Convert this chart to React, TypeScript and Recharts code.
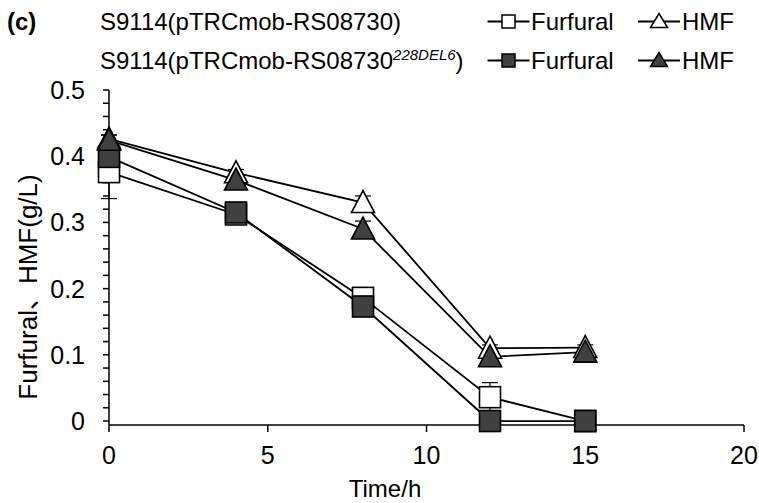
import React from "react";
import { LineChart, Line, XAxis, YAxis, ErrorBar } from "recharts";

// ---------------------------------------------------------------------------
// Data
// ---------------------------------------------------------------------------

const times = [0, 4, 8, 12, 15];

// S9114(pTRCmob-RS08730)
const furfuralWt = [0.376, 0.312, 0.186, 0.036, 0.0];
const furfuralWtErr = [0.04, 0.006, 0.007, 0.022, 0.002];
const hmfWt = [0.426, 0.375, 0.33, 0.11, 0.111];
const hmfWtErr = [0.006, 0.005, 0.01, 0.005, 0.004];

// S9114(pTRCmob-RS08730 228DEL6)
const furfuralMut = [0.399, 0.315, 0.173, 0.0, 0.0];
const furfuralMutErr = [0.006, 0.014, 0.01, 0.003, 0.006];
const hmfMut = [0.424, 0.364, 0.29, 0.097, 0.104];
const hmfMutErr = [0.008, 0.008, 0.012, 0.006, 0.004];

const xTicks = [0, 5, 10, 15, 20];
const yTicks = [
  0, 0.02, 0.04, 0.06, 0.08, 0.1, 0.12, 0.14, 0.16, 0.18, 0.2, 0.22, 0.24,
  0.26, 0.28, 0.3, 0.32, 0.34, 0.36, 0.38, 0.4, 0.42, 0.44, 0.46, 0.48, 0.5,
];
const yMajorLabels = ["0", "0.1", "0.2", "0.3", "0.4", "0.5"];

const strainA = "S9114(pTRCmob-RS08730)";
const strainBPrefix = "S9114(pTRCmob-RS08730";
const strainBSup = "228DEL6";
const xTitle = "Time/h";
const yTitle = "Furfural、HMF(g/L)";

// ---------------------------------------------------------------------------
// Helpers
// ---------------------------------------------------------------------------

const FONT = "'Liberation Sans', Arial, 'Noto Sans CJK SC', sans-serif";
const DARK = "#404040";

const rows = times.map((t, i) => ({
  t,
  fw: furfuralWt[i],
  fwErr: furfuralWtErr[i],
  hw: hmfWt[i],
  hwErr: hmfWtErr[i],
  fm: furfuralMut[i],
  fmErr: furfuralMutErr[i],
  hm: hmfMut[i],
  hmErr: hmfMutErr[i],
}));

function squareDot(fill: string) {
  return (p: any) => {
    const s = 21;
    return (
      <rect
        key={`sq-${fill}-${p.index}`}
        x={p.cx - s / 2}
        y={p.cy - s / 2}
        width={s}
        height={s}
        fill={fill}
        stroke="#000"
        strokeWidth={1.6}
      />
    );
  };
}

function triangleDot(fill: string) {
  return (p: any) => {
    const w = 23;
    const top = p.cy - 12;
    const bot = p.cy + 10;
    return (
      <path
        key={`tr-${fill}-${p.index}`}
        d={`M${p.cx},${top} L${p.cx + w / 2},${bot} L${p.cx - w / 2},${bot} Z`}
        fill={fill}
        stroke="#000"
        strokeWidth={1.6}
      />
    );
  };
}

function XTick({ x, y, payload }: any) {
  return (
    <text x={x} y={y + 30} textAnchor="middle" fontSize={25} fill="#000" fontFamily={FONT}>
      {payload.value}
    </text>
  );
}

function YTick({ x, y, payload }: any) {
  const idx = Math.round(payload.value * 10);
  if (Math.abs(payload.value * 10 - idx) > 1e-6) return null;
  return (
    <text x={x - 16} y={y + 9} textAnchor="end" fontSize={25} fill="#000" fontFamily={FONT}>
      {yMajorLabels[idx]}
    </text>
  );
}

function LegendMarker({ x, y, kind, fill }: { x: number; y: number; kind: "sq" | "tr"; fill: string }) {
  return (
    <g>
      <line x1={x - 21} x2={x + 21} y1={y} y2={y} stroke="#000" strokeWidth={2} />
      {kind === "sq" ? (
        <rect x={x - 6.5} y={y - 6.5} width={13} height={13} fill={fill} stroke="#000" strokeWidth={1.5} />
      ) : (
        <path d={`M${x},${y - 8} L${x + 8.5},${y + 6} L${x - 8.5},${y + 6} Z`} fill={fill} stroke="#000" strokeWidth={1.5} />
      )}
    </g>
  );
}

// ---------------------------------------------------------------------------
// Component
// ---------------------------------------------------------------------------

export default function App() {
  const row1 = 30;
  const row2 = 69;
  return (
    <div style={{ position: "absolute", left: 0, top: 0, width: 759, height: 503, background: "#fff" }}>
      <LineChart
        width={759}
        height={503}
        data={rows}
        margin={{ top: 90, right: 15, left: 0, bottom: 0 }}
        style={{ fontFamily: FONT }}
      >
        <XAxis
          dataKey="t"
          type="number"
          domain={[0, 20]}
          ticks={xTicks}
          interval={0}
          height={78}
          tickSize={7}
          tick={<XTick />}
          axisLine={{ stroke: "#000", strokeWidth: 1.5 }}
          tickLine={{ stroke: "#000", strokeWidth: 1.5 }}
        />
        <YAxis
          type="number"
          domain={[0, 0.5]}
          ticks={yTicks}
          interval={0}
          width={109}
          tickSize={6}
          tick={<YTick />}
          axisLine={{ stroke: "#000", strokeWidth: 1.5 }}
          tickLine={{ stroke: "#000", strokeWidth: 1.5 }}
        />

        {/* markers first so the connecting lines sit on top of them */}
        <Line dataKey="fw" stroke="none" dot={squareDot("#fff")} activeDot={false} isAnimationActive={false} />
        <Line dataKey="hw" stroke="none" dot={triangleDot("#fff")} activeDot={false} isAnimationActive={false} />
        <Line dataKey="fm" stroke="none" dot={squareDot(DARK)} activeDot={false} isAnimationActive={false} />
        <Line dataKey="hm" stroke="none" dot={triangleDot(DARK)} activeDot={false} isAnimationActive={false} />

        <Line dataKey="fw" type="linear" stroke="#000" strokeWidth={1.8} dot={false} activeDot={false} isAnimationActive={false}>
          <ErrorBar dataKey="fwErr" direction="y" width={8} stroke="#000" strokeWidth={1.2} />
        </Line>
        <Line dataKey="hw" type="linear" stroke="#000" strokeWidth={1.8} dot={false} activeDot={false} isAnimationActive={false}>
          <ErrorBar dataKey="hwErr" direction="y" width={8} stroke="#000" strokeWidth={1.2} />
        </Line>
        <Line dataKey="fm" type="linear" stroke="#000" strokeWidth={1.8} dot={false} activeDot={false} isAnimationActive={false}>
          <ErrorBar dataKey="fmErr" direction="y" width={8} stroke="#000" strokeWidth={1.2} />
        </Line>
        <Line dataKey="hm" type="linear" stroke="#000" strokeWidth={1.8} dot={false} activeDot={false} isAnimationActive={false}>
          <ErrorBar dataKey="hmErr" direction="y" width={8} stroke="#000" strokeWidth={1.2} />
        </Line>
      </LineChart>

      <svg
        width={759}
        height={503}
        style={{ position: "absolute", left: 0, top: 0, pointerEvents: "none" }}
        fontFamily={FONT}
      >
        <text x={7} y={row1} fontSize={24} fontWeight="bold">(c)</text>
        <text x={100} y={row1} fontSize={24}>{strainA}</text>
        <text x={100} y={row2} fontSize={24}>
          {strainBPrefix}
          <tspan fontSize={15} fontStyle="italic" dy={-9}>{strainBSup}</tspan>
          <tspan dy={9}>)</tspan>
        </text>

        <LegendMarker x={508.5} y={row1 - 8.5} kind="sq" fill="#fff" />
        <text x={531} y={row1} fontSize={24}>Furfural</text>
        <LegendMarker x={659} y={row1 - 8.5} kind="tr" fill="#fff" />
        <text x={682} y={row1} fontSize={24}>HMF</text>

        <LegendMarker x={508.5} y={row2 - 8.5} kind="sq" fill={DARK} />
        <text x={531} y={row2} fontSize={24}>Furfural</text>
        <LegendMarker x={659} y={row2 - 8.5} kind="tr" fill={DARK} />
        <text x={682} y={row2} fontSize={24}>HMF</text>

        <text x={385} y={497} fontSize={24} textAnchor="middle">{xTitle}</text>
        <text
          x={0}
          y={0}
          fontSize={26}
          textAnchor="middle"
          transform="translate(37, 287) rotate(-90)"
        >
          {yTitle}
        </text>
      </svg>
    </div>
  );
}
